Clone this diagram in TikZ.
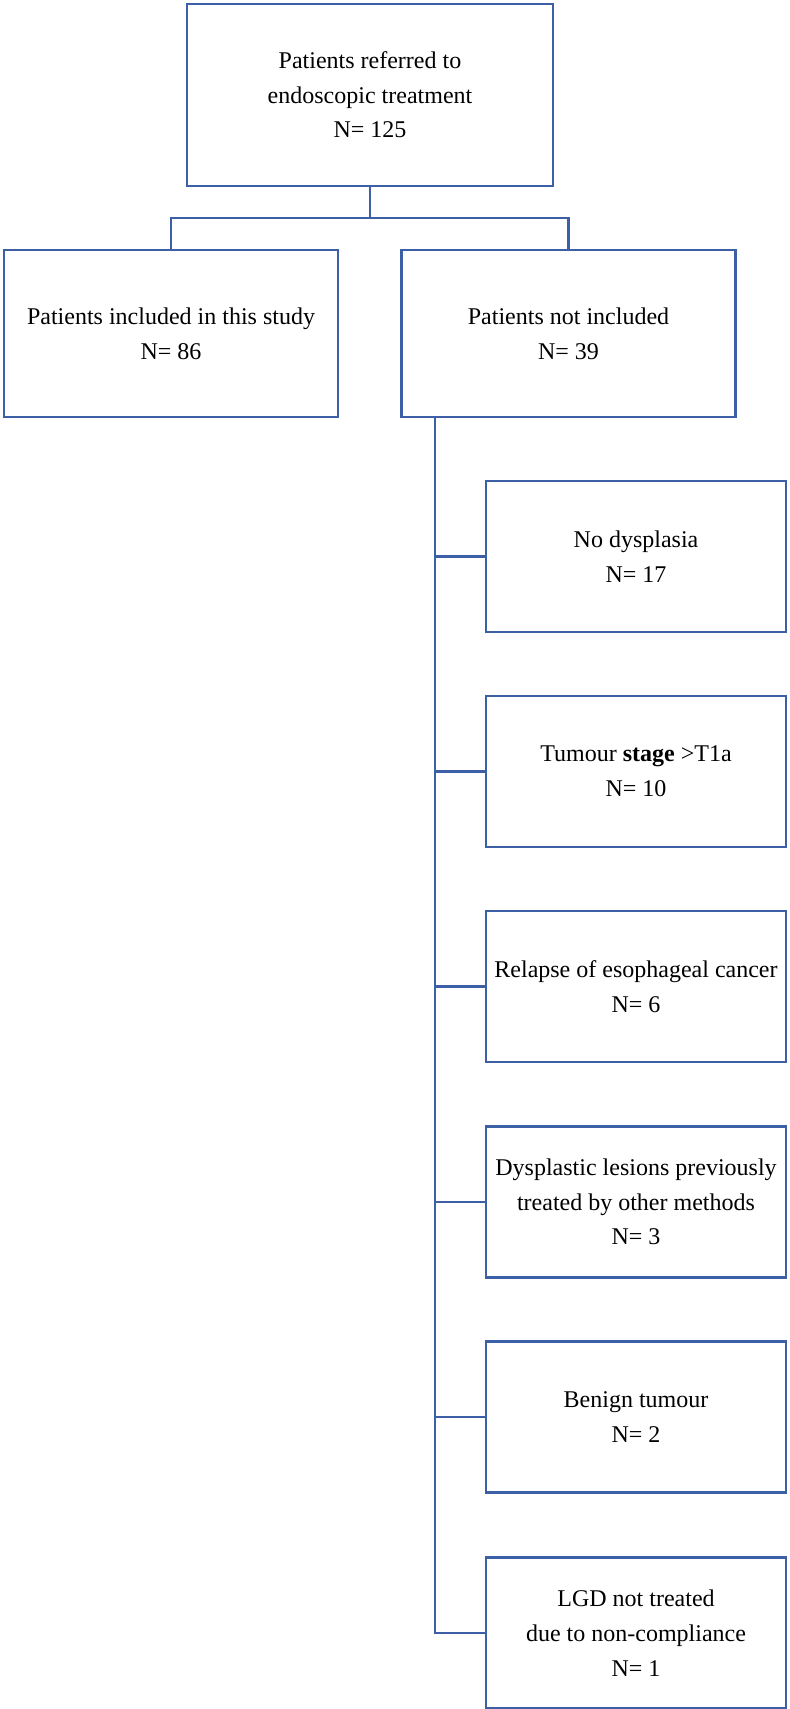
\documentclass[tikz,border=0pt]{standalone}
\usepackage{fontspec}
\setmainfont{Liberation Serif}
\definecolor{bl}{RGB}{60,95,165}
\begin{document}
\begin{tikzpicture}[x=0.75pt,y=-0.75pt,
  box/.style={draw=bl,line width=2.2pt,align=center,inner sep=0pt,
    font=\fontsize{18}{26}\selectfont},
  bigbox/.style={box,minimum width=250.5pt,minimum height=125.25pt},
  subbox/.style={box,minimum width=225pt,minimum height=113.25pt},
  conn/.style={draw=bl,line width=2.2pt,line join=miter}]
\useasboundingbox (0,0) rectangle (789,1709);
\node[box,minimum width=274.5pt,minimum height=136.5pt] (top) at (370,95)
  {Patients referred to\\endoscopic treatment\\N= 125};
\node[bigbox] (left) at (171,333.5) {Patients included in this study\\N= 86};
\node[bigbox] (right) at (568.5,333.5) {Patients not included\\N= 39};
\node[subbox] (b1) at (636,556.5) {No dysplasia\\N= 17};
\node[subbox] (b2) at (636,771.5) {Tumour \textbf{stage} >T1a\\N= 10};
\node[subbox] (b3) at (636,986.5) {Relapse of esophageal cancer\\N= 6};
\node[subbox] (b4) at (636,1202) {Dysplastic lesions previously\\treated by other methods\\N= 3};
\node[subbox] (b5) at (636,1417) {Benign tumour\\N= 2};
\node[subbox] (b6) at (636,1633) {LGD not treated\\due to non-compliance\\N= 1};
\coordinate (j) at (370,218);
\coordinate (t) at (435,0);
\draw[conn] (top.south) -- (j);
\draw[conn] (left.north) |- (j) -| (right.north);
\draw[conn] (right.south -| t) |- (b6.west);
\foreach \b in {b1,b2,b3,b4,b5}
  \draw[conn] (\b.west -| t) -- (\b.west);
\end{tikzpicture}
\end{document}
